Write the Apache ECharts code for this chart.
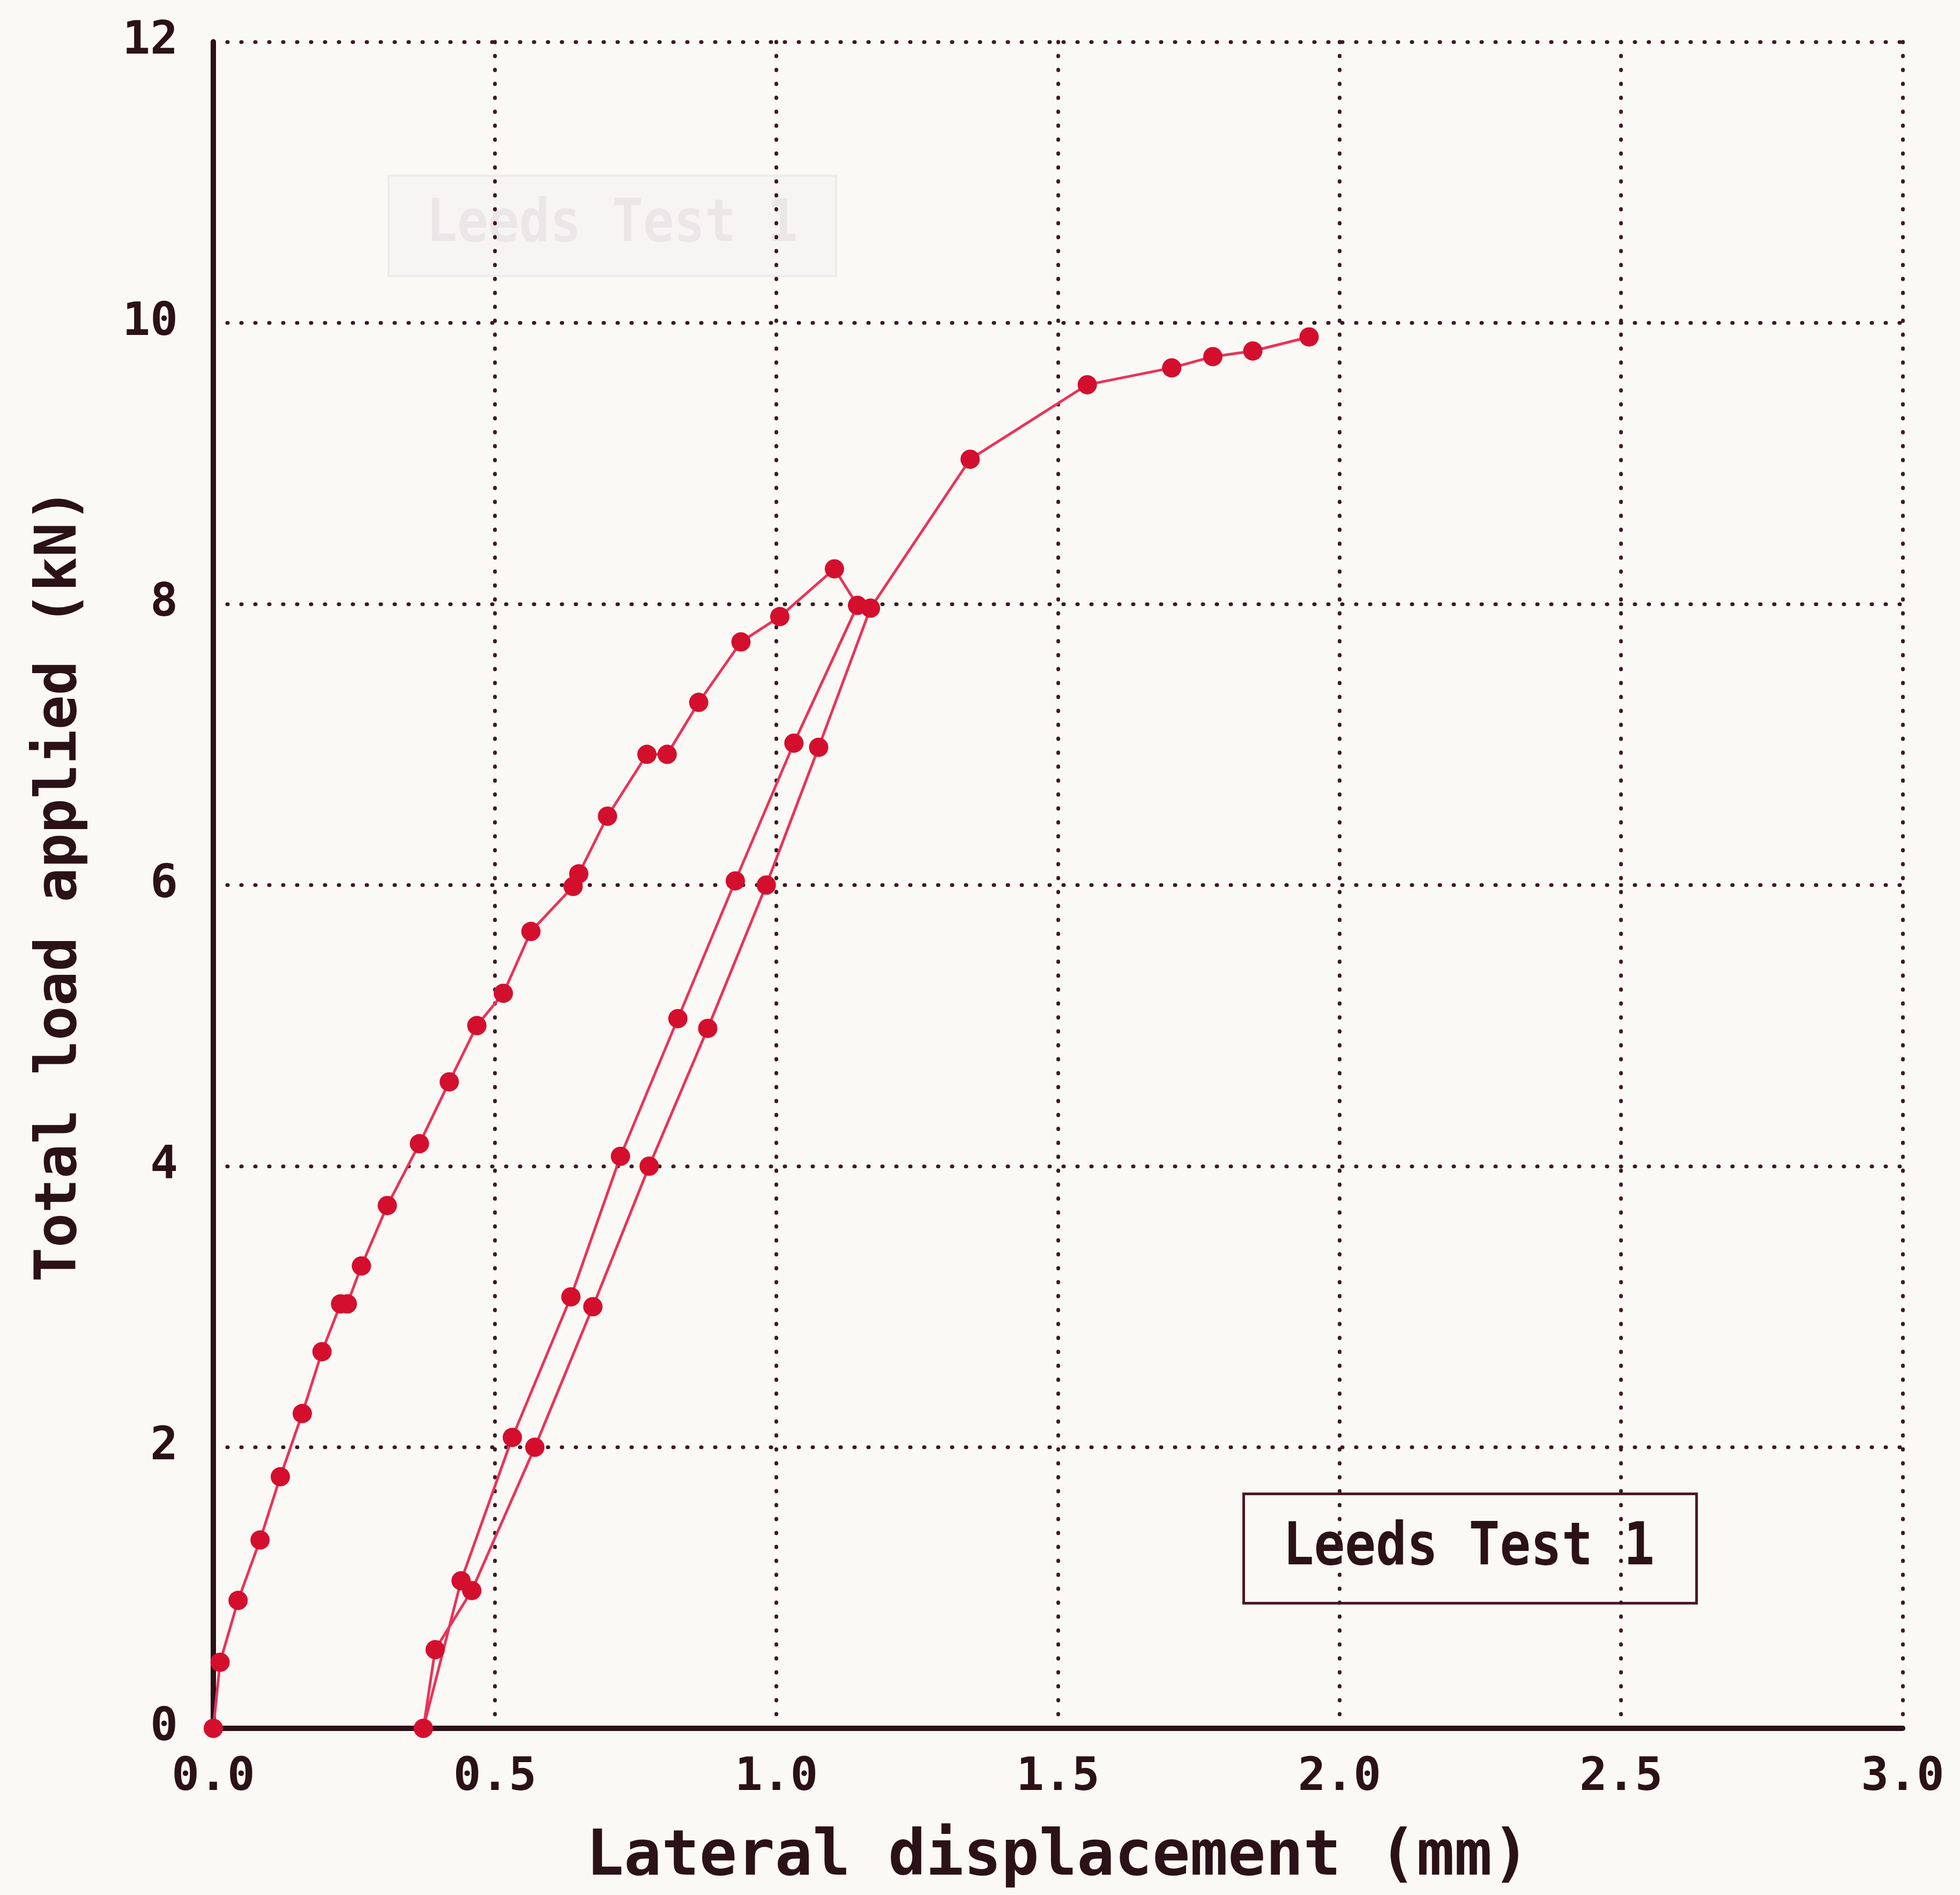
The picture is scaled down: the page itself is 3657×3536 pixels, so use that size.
<!DOCTYPE html>
<html>
<head>
<meta charset="utf-8">
<script src="https://cdn.jsdelivr.net/npm/echarts@6/dist/echarts.min.js"></script>
<style>
  html, body { margin: 0; padding: 0; background: #fbf9f5; }
  #chart { width: 3657px; height: 3536px; }
</style>
</head>
<body>
<div id="chart"></div>
<script>
// ---- data ----
const seriesName = 'Leeds Test 1';
const xTitle = 'Lateral displacement (mm)';
const yTitle = 'Total load applied (kN)';

const xTicks = [0, 0.5, 1.0, 1.5, 2.0, 2.5, 3.0];
const yTicks = [0, 2, 4, 6, 8, 10, 12];

// first loading branch (mm, kN)
const loadingDisp = [0, 0.012, 0.044, 0.083, 0.119, 0.158, 0.193, 0.226, 0.238, 0.263, 0.309, 0.366, 0.419, 0.468, 0.515, 0.564, 0.639, 0.649, 0.700, 0.770, 0.806, 0.862, 0.937, 1.006, 1.103, 1.144];
const loadingLoad = [0, 0.47, 0.91, 1.34, 1.79, 2.24, 2.68, 3.02, 3.02, 3.29, 3.72, 4.16, 4.60, 5.00, 5.23, 5.67, 5.99, 6.08, 6.49, 6.93, 6.93, 7.30, 7.73, 7.91, 8.25, 7.99];

// unloading branch
const unloadingDisp = [1.031, 0.927, 0.825, 0.723, 0.635, 0.531, 0.440, 0.373];
const unloadingLoad = [7.01, 6.03, 5.05, 4.07, 3.07, 2.07, 1.05, 0];

// reloading branch up to the end of the test
const reloadingDisp = [0.394, 0.459, 0.571, 0.674, 0.774, 0.878, 0.982, 1.075, 1.167, 1.344, 1.552, 1.702, 1.775, 1.846, 1.946];
const reloadingLoad = [0.56, 0.98, 2.00, 3.00, 4.00, 4.98, 6.00, 6.98, 7.97, 9.03, 9.56, 9.68, 9.76, 9.80, 9.90];

// ---- build the series data ----
const allDisp = loadingDisp.concat(unloadingDisp, reloadingDisp);
const allLoad = loadingLoad.concat(unloadingLoad, reloadingLoad);
const curve = allDisp.map((d, i) => [d, allLoad[i]]);

const ink = '#2b1118';
const font = "'DejaVu Sans Mono', 'Liberation Mono', monospace";

const chart = echarts.init(document.getElementById('chart'), null, { renderer: 'canvas' });

const gridLine = { show: true, lineStyle: { color: '#3b1a24', width: 7, type: [1, 25], cap: 'round' } };

chart.setOption({
  backgroundColor: '#fbf9f5',
  animation: false,
  grid: { left: 398, right: 107, top: 78, bottom: 311, containLabel: false },
  xAxis: {
    type: 'value',
    min: xTicks[0], max: xTicks[xTicks.length - 1], interval: 0.5,
    name: xTitle, nameLocation: 'middle', nameGap: 184,
    nameTextStyle: { fontFamily: font, fontWeight: 'bold', fontSize: 117, color: ink },
    axisLine: { show: true, onZero: true, lineStyle: { color: ink, width: 10 } },
    axisTick: { show: false },
    axisLabel: { margin: 50, fontFamily: font, fontWeight: 'bold', fontSize: 86, color: ink,
                 formatter: v => v.toFixed(1) },
    splitLine: gridLine
  },
  yAxis: {
    type: 'value',
    min: yTicks[0], max: yTicks[yTicks.length - 1], interval: 2,
    name: yTitle, nameLocation: 'middle', nameGap: 231, nameRotate: 90,
    nameTextStyle: { fontFamily: font, fontWeight: 'bold', fontSize: 107, color: ink },
    axisLine: { show: true, onZero: false, lineStyle: { color: ink, width: 10 } },
    axisTick: { show: false },
    axisLabel: { margin: 66, fontFamily: font, fontWeight: 'bold', fontSize: 86, color: ink,
                 formatter: v => String(v) },
    splitLine: gridLine
  },
  series: [{
    name: seriesName,
    type: 'line',
    data: curve,
    showAllSymbol: true,
    symbol: 'circle',
    symbolSize: 36,
    lineStyle: { color: '#ea3358', width: 5 },
    itemStyle: { color: '#d40f2e' },
    z: 5
  }],
  graphic: [
    // faint show-through label at top left
    { type: 'group', left: 723, top: 326, silent: true, children: [
      { type: 'rect', shape: { x: 0, y: 0, width: 835, height: 187 },
        style: { fill: 'rgba(238,236,238,0.3)', stroke: '#eeebec', lineWidth: 4 } },
      { type: 'text', x: 417, y: 93, scaleY: 1.15,
        style: { text: seriesName, font: "bold 96px 'DejaVu Sans Mono', monospace", fill: '#ebe7e9',
                 textAlign: 'center', textVerticalAlign: 'middle', verticalAlign: 'middle' } }
    ]},
    // label box
    { type: 'group', left: 2318, top: 2785, silent: true, children: [
      { type: 'rect', shape: { x: 0, y: 0, width: 845, height: 204 },
        style: { fill: 'rgba(0,0,0,0)', stroke: '#4a1a26', lineWidth: 5 } },
      { type: 'text', x: 420, y: 103, scaleY: 1.15,
        style: { text: seriesName, font: "bold 96px 'DejaVu Sans Mono', monospace", fill: ink,
                 textAlign: 'center', textVerticalAlign: 'middle', verticalAlign: 'middle' } }
    ]}
  ]
});
</script>
</body>
</html>
